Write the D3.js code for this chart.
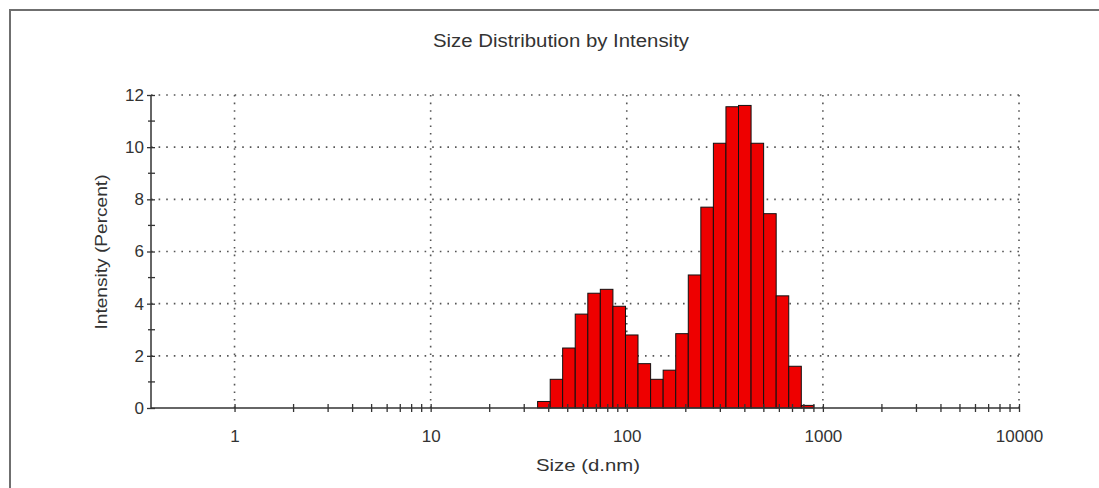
<!DOCTYPE html>
<html>
<head>
<meta charset="utf-8">
<script src="https://cdn.jsdelivr.net/npm/d3@7"></script>
<style>
body{margin:0;background:#fff;}
text{font-family:"Liberation Sans",Arial,sans-serif;fill:#333;}
</style>
</head>
<body>
<div id="chart-area"></div>
<script>
// size classes (bin edges, nm) and intensity per class (%)
var binEdges=[35.1,40.7,47.1,54.6,63.3,73.3,85.0,98.5,114.1,132.3,153.3,177.7,205.9,238.6,276.5,320.4,371.3,430.4,498.7,577.9,669.8,776.2,899.5];
var intensity=[0.25,1.1,2.3,3.6,4.4,4.55,3.9,2.8,1.7,1.1,1.45,2.85,5.1,7.7,10.15,11.55,11.6,10.15,7.45,4.3,1.6,0.1];
var xTickValues=[1,10,100,1000,10000];
var yTickValues=[0,2,4,6,8,10,12];
var yMinorValues=[1,3,5,7,9,11];

var margin={left:151,right:80,top:95,bottom:80};
var width=868;
var height=313;

var svg=d3.select("#chart-area").append("svg")
    .attr("width",1099)
    .attr("height",488);

// outer frame (cropped by the picture on the right and bottom)
svg.append("rect")
    .attr("x",10).attr("y",10)
    .attr("width",1200).attr("height",600)
    .attr("fill","none")
    .attr("stroke","#6f6f6f")
    .attr("stroke-width",2);

svg.append("text")
    .attr("x",561).attr("y",47)
    .attr("text-anchor","middle")
    .attr("font-size","18px")
    .attr("textLength",256)
    .attr("lengthAdjust","spacingAndGlyphs")
    .text("Size Distribution by Intensity");

var g=svg.append("g")
    .attr("transform","translate("+margin.left+","+margin.top+")");

var x=d3.scaleLog().domain([0.375,10000]).range([0,width]);
var y=d3.scaleLinear().domain([0,12]).range([height,0]);

var xMinor=[];
xTickValues.slice(0,4).forEach((d)=>{
    for(var k=2;k<10;k++){ xMinor.push(d*k); }
});

// dotted grid
g.selectAll(".hgrid").data(yTickValues.slice(1)).enter()
    .append("line").attr("class","hgrid")
    .attr("x1",0).attr("x2",width)
    .attr("y1",(d)=>y(d)).attr("y2",(d)=>y(d))
    .attr("stroke","#555").attr("stroke-width",1.6)
    .attr("stroke-dasharray","1.6,6");

g.selectAll(".vgrid").data(xTickValues).enter()
    .append("line").attr("class","vgrid")
    .attr("x1",(d)=>x(d)).attr("x2",(d)=>x(d))
    .attr("y1",0).attr("y2",height)
    .attr("stroke","#555").attr("stroke-width",1.6)
    .attr("stroke-dasharray","1.6,6");

// bars
g.selectAll(".bar").data(intensity).enter()
    .append("rect").attr("class","bar")
    .attr("x",(d,i)=>x(binEdges[i]))
    .attr("width",(d,i)=>x(binEdges[i+1])-x(binEdges[i]))
    .attr("y",(d)=>y(d))
    .attr("height",(d)=>height-y(d))
    .attr("fill","#ee0000")
    .attr("stroke","#111")
    .attr("stroke-width",1);

// x axis
var bottomAxis=d3.axisBottom(x)
    .tickValues(xTickValues)
    .tickFormat(d3.format("d"))
    .tickSize(4);
var xg=g.append("g")
    .attr("class","bottom axis")
    .attr("transform","translate(0,"+height+")")
    .call(bottomAxis);
xg.select(".domain").attr("d","M0,0H"+width).attr("stroke","#333").attr("stroke-width",1.5);
xg.selectAll(".tick line").attr("y1",-4).attr("stroke","#333").attr("stroke-width",1.3);
xg.selectAll("text").attr("y",22).attr("font-size","17px").style("fill","#333");

xg.selectAll(".minor").data(xMinor).enter()
    .append("line").attr("class","minor")
    .attr("x1",(d)=>x(d)).attr("x2",(d)=>x(d))
    .attr("y1",-4).attr("y2",4)
    .attr("stroke","#333").attr("stroke-width",1.3);

// y axis
var leftAxis=d3.axisLeft(y)
    .tickValues(yTickValues)
    .tickSize(4);
var yg=g.append("g")
    .attr("class","left axis")
    .call(leftAxis);
yg.select(".domain").attr("d","M0,"+height+"V0").attr("stroke","#333").attr("stroke-width",1.5);
yg.selectAll(".tick line").attr("x1",4).attr("stroke","#333").attr("stroke-width",1.3);
yg.selectAll("text").attr("x",-7).attr("font-size","17px").style("fill","#333");

yg.selectAll(".minor").data(yMinorValues).enter()
    .append("line").attr("class","minor")
    .attr("x1",-3).attr("x2",4)
    .attr("y1",(d)=>y(d)).attr("y2",(d)=>y(d))
    .attr("stroke","#333").attr("stroke-width",1.3);

g.append("text")
    .attr("class","x axis-label")
    .attr("x",437)
    .attr("y",376)
    .attr("font-size","17px")
    .attr("textLength",104)
    .attr("lengthAdjust","spacingAndGlyphs")
    .attr("text-anchor","middle")
    .text("Size (d.nm)");

g.append("text")
    .attr("class","y axis-label")
    .attr("x",-157)
    .attr("y",-44)
    .attr("font-size","17px")
    .attr("textLength",155)
    .attr("lengthAdjust","spacingAndGlyphs")
    .attr("text-anchor","middle")
    .attr("transform","rotate(-90)")
    .text("Intensity (Percent)");
</script>
</body>
</html>
